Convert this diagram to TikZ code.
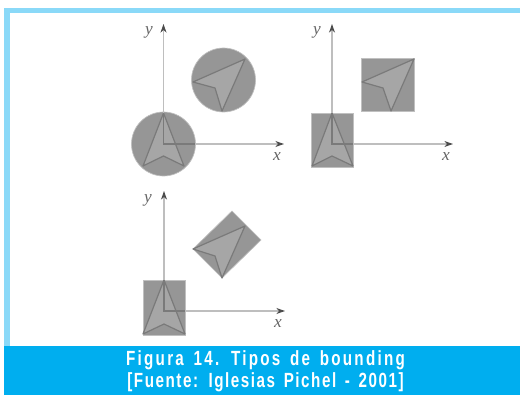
\documentclass[tikz,border=0pt]{standalone}
\usepackage{fontspec}
\setmainfont{Liberation Serif}
\newfontfamily\capfont[FakeStretch=0.74,LetterSpace=11,WordSpace=1.5]{Liberation Sans}
\usetikzlibrary{arrows.meta}
\definecolor{band}{HTML}{8AD9F8}
\definecolor{capbar}{HTML}{00AEEF}
\definecolor{fillg}{HTML}{969696}
\definecolor{polyg}{HTML}{A6A6A6}
\definecolor{edgeg}{HTML}{7A7A7A}
\definecolor{axisg}{HTML}{BEBEBE}
\definecolor{labg}{HTML}{666666}
\tikzset{
  x=0.75pt,y=-0.75pt,
  bbox/.style={fill=fillg,draw=fillg!60!white,line width=0.5pt},
  poly/.style={fill=polyg,draw=edgeg,line width=0.9pt,line join=round},
  axisline/.style={draw=axisg,line width=0.8pt,-{Stealth[length=6.5pt,width=4.5pt,color=black!70]}},
  innerline/.style={draw=edgeg,line width=0.8pt},
  lab/.style={font=\itshape\fontsize{13}{13}\selectfont,text=labg,inner sep=0pt},
  caption/.style={font=\capfont\bfseries\fontsize{15.4}{16.5}\selectfont,text=white,align=center,inner sep=0pt}
}
\begin{document}
\begin{tikzpicture}
\useasboundingbox (0,0) rectangle (520,395);
\fill[white] (0,0) rectangle (520,395);
\fill[band] (4,8) rectangle (520,13);
\fill[band] (4,8) rectangle (10,346);
\fill[capbar] (4,346) rectangle (520,395);
% panel 1
\coordinate (o1) at (163.5,144);
\coordinate (ya) at (163.5,24);
\coordinate (xa) at (284,144);
\filldraw[bbox] (o1) circle[radius=32];
\filldraw[bbox] (223.5,80) circle[radius=32];
\draw[poly] (163.5,113) -- (143,166) -- (163.5,156) -- (184,166) -- cycle;
\draw[poly] (245,59) -- (193,82) -- (215,88) -- (222,111) -- cycle;
\draw[axisline] (o1) -- (ya);
\draw[axisline] (o1) -- (xa);
\draw[innerline] (163.5,113) -- (o1) -- (195,144);
\node[lab] (y1) at (149,32) {y};
\node[lab] (x1) at (277,157) {x};
% panel 2
\coordinate (o2) at (332,144);
\coordinate (yb) at (332,24);
\coordinate (xb) at (453,144);
\filldraw[bbox] (311,113) rectangle (353,167);
\filldraw[bbox] (361,58) rectangle (414,111);
\draw[poly] (332,113) -- (312,166) -- (332,156) -- (353,166) -- cycle;
\draw[poly] (414,59) -- (362,82) -- (383,88) -- (391,111) -- cycle;
\draw[axisline] (o2) -- (yb);
\draw[axisline] (o2) -- (xb);
\draw[innerline] (332,113) -- (o2) -- (353,144);
\node[lab] (y2) at (317,32) {y};
\node[lab] (x2) at (446,157) {x};
% panel 3
\coordinate (o3) at (164,311);
\coordinate (yc) at (164,191);
\coordinate (xc) at (285,311);
\filldraw[bbox] (143,280) rectangle (185,335);
\filldraw[bbox] (232,211) -- (261,240) -- (222,278) -- (193,249) -- cycle;
\draw[poly] (164,280) -- (143,334) -- (164,324) -- (185,334) -- cycle;
\draw[poly] (245,226) -- (193,249) -- (215,256) -- (222,278) -- cycle;
\draw[axisline] (o3) -- (yc);
\draw[axisline] (o3) -- (xc);
\draw[innerline] (164,280) -- (o3) -- (185,311);
\node[lab] (y3) at (148,200) {y};
\node[lab] (x3) at (278,324) {x};
% caption
\node[caption] (cap) at (265.5,371.5) {Figura 14. Tipos de bounding\\\addfontfeature{LetterSpace=7.5}{[}Fuente: Iglesias Pichel - 2001{]}};
\end{tikzpicture}
\end{document}
